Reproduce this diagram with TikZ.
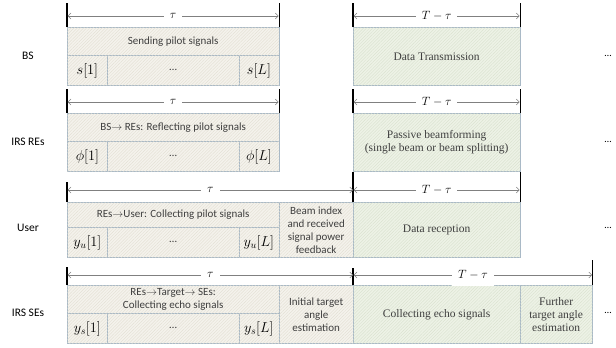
\documentclass[tikz,border=0pt]{standalone}
\usepackage{fontspec}
\setmainfont{Liberation Serif}
\newfontfamily\calibfont{Carlito}
\usetikzlibrary{arrows.meta,patterns.meta}
\definecolor{cellline}{HTML}{A9B9C6}
\definecolor{pilotfill}{HTML}{F4F2EC}
\definecolor{pilothatch}{HTML}{E0DCCF}
\definecolor{datafill}{HTML}{EDF2E6}
\definecolor{datahatch}{HTML}{D6DFCB}
\definecolor{dimline}{HTML}{808080}
\definecolor{celltext}{HTML}{3F3F3F}

\tikzset{
  cell/.style={draw=cellline, line width=0.8pt, anchor=north west, inner sep=0pt,
    align=center, text=celltext},
  pilotcell/.style={cell, fill=pilotfill,
    postaction={pattern={Lines[angle=45,distance=2.2pt,line width=0.3pt]}, pattern color=pilothatch},
    font=\calibfont\fontsize{11}{13}\selectfont},
  datacell/.style={cell, fill=datafill,
    postaction={pattern={Lines[angle=45,distance=2.2pt,line width=0.3pt]}, pattern color=datahatch},
    font=\fontsize{11.5}{13}\selectfont},
  mathcell/.style={font=\fontsize{14}{16}\selectfont, text=black},
  tick/.style={line width=1.2pt, black},
  dim/.style={dimline, line width=0.6pt, shorten <=0.6pt, shorten >=0.6pt,
    {Straight Barb[length=3pt,width=6pt]}-{Straight Barb[length=3pt,width=6pt]}},
  dimlabel/.style={fill=white, inner sep=6pt, text=black, font=\fontsize{13}{15}\selectfont},
  rowlabel/.style={font=\calibfont\fontsize{11.5}{14}\selectfont},
  moredots/.style={font=\calibfont\fontsize{10}{12}\selectfont}
}

\begin{document}
\begin{tikzpicture}[x=1pt, y=-1pt]
  \useasboundingbox (0,0) rectangle (616,348);

  % row labels and the dots on the right
  \foreach \yy/\row/\name in {56/bs/BS, 142/re/IRS REs, 228/us/User, 313/se/IRS SEs} {
    \node[rowlabel] (\row label) at (28,\yy) {\name};
    \node[moredots] (\row more) at (608,\yy) {…};
  }

  % pilot index cells
  \foreach \top/\row/\sig in {55/bs/s, 141/re/\phi, 227/us/y_u, 313/se/y_s} {
    \node[pilotcell, mathcell, minimum width=40, minimum height=30] (\row first) at (67,\top) {$\sig[1]$};
    \node[pilotcell, minimum width=131.5, minimum height=30] (\row dots) at (107,\top) {…};
    \node[pilotcell, mathcell, minimum width=40, minimum height=30] (\row last) at (238.5,\top) {$\sig[L]$};
  }

  % BS
  \node[pilotcell, minimum width=211.5, minimum height=28] (bspilot) at (67,27) {Sending pilot signals};
  \node[datacell, minimum width=166.5, minimum height=58] (bsdata) at (353,27) {Data Transmission};

  % IRS REs
  \node[pilotcell, minimum width=211.5, minimum height=28] (repilot) at (67,113) {BS$\rightarrow$ REs: Reflecting pilot signals};
  \node[datacell, minimum width=166.5, minimum height=58] (redata) at (353,113) {Passive beamforming\\(single beam or beam splitting)};

  % User
  \node[pilotcell, minimum width=211.5, minimum height=25] (uspilot) at (67,202) {REs$\rightarrow$User: Collecting pilot signals};
  \node[pilotcell, minimum width=74.5, minimum height=55] (usfeed) at (278.5,202) {Beam index\\and received\\signal power\\feedback};
  \node[datacell, minimum width=166.5, minimum height=55] (usdata) at (353,202) {Data reception};

  % IRS SEs
  \node[pilotcell, minimum width=211.5, minimum height=28] (sepilot) at (67,285) {REs$\rightarrow$Target$\rightarrow$ SEs:\\Collecting echo signals};
  \node[pilotcell, minimum width=74.5, minimum height=58] (seinit) at (278.5,285) {Initial target\\angle\\estimation};
  \node[datacell, minimum width=166.5, minimum height=58] (seecho) at (353,285) {Collecting echo signals};
  \node[datacell, minimum width=72.5, minimum height=58] (sefurther) at (519.5,285) {Further\\target angle\\estimation};

  % ticks
  \foreach \corner in {bspilot.north west, bspilot.north east, bsdata.north west, bsdata.north east,
                       repilot.north west, repilot.north east, redata.north west, redata.north east}
    \draw[tick] (\corner) -- ++(0,-24);
  \draw[tick] (uspilot.north west) -- ++(0,-20);
  \draw[tick] (usdata.north west) -- ++(0,-30);
  \draw[tick] (usdata.north east) -- ++(0,-30);
  \draw[tick] (sepilot.north west) -- ++(0,-18);
  \draw[tick] (seecho.north west) -- ++(0,-17);
  \draw[tick] (sefurther.north east) -- ++(0,-25);

  % durations
  \draw[dim] ([yshift=11pt]bspilot.north west) -- node[dimlabel] (bstau) {$\tau$} ([yshift=11pt]bspilot.north east);
  \draw[dim] ([yshift=11pt]bsdata.north west) -- node[dimlabel] (bsrest) {$T-\tau$} ([yshift=11pt]bsdata.north east);
  \draw[dim] ([yshift=11pt]repilot.north west) -- node[dimlabel] (retau) {$\tau$} ([yshift=11pt]repilot.north east);
  \draw[dim] ([yshift=11pt]redata.north west) -- node[dimlabel] (rerest) {$T-\tau$} ([yshift=11pt]redata.north east);
  \draw[dim] ([yshift=12pt]uspilot.north west) -- node[dimlabel] (ustau) {$\tau$} ([yshift=12pt]usfeed.north east);
  \draw[dim] ([yshift=12pt]usdata.north west) -- node[dimlabel] (usrest) {$T-\tau$} ([yshift=12pt]usdata.north east);
  \draw[dim] ([yshift=10pt]sepilot.north west) -- node[dimlabel] (setau) {$\tau$} ([yshift=10pt]seinit.north east);
  \draw[dim] ([yshift=10pt]seecho.north west) -- node[dimlabel] (serest) {$T-\tau$} ([yshift=10pt]sefurther.north east);
\end{tikzpicture}
\end{document}
